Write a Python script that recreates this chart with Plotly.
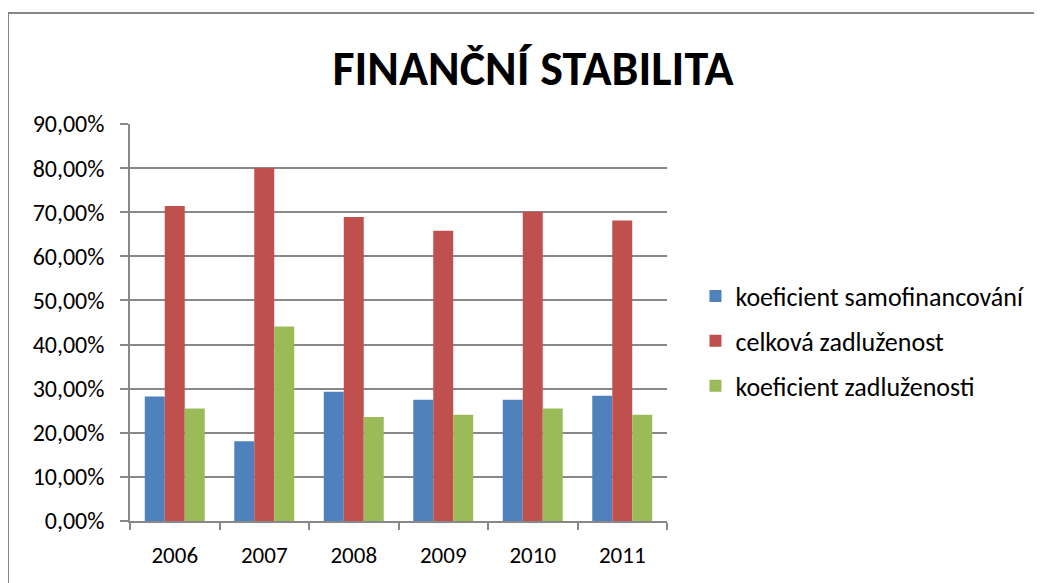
import plotly.graph_objects as go

years = ['2006', '2007', '2008', '2009', '2010', '2011']
samofinancovani = [0.282, 0.181, 0.293, 0.275, 0.275, 0.284]
celkova_zadluzenost = [0.714, 0.800, 0.689, 0.658, 0.701, 0.681]
koef_zadluzenosti = [0.255, 0.441, 0.236, 0.241, 0.255, 0.241]

series = [
    ('koeficient samofinancování', samofinancovani, '#4F81BD'),
    ('celková zadluženost', celkova_zadluzenost, '#C0504D'),
    ('koeficient zadluženosti', koef_zadluzenosti, '#9BBB59'),
]

font_family = 'Carlito, Calibri, Lato, Open Sans, sans-serif'
grid = '#888888'

fig = go.Figure()
for i, (name, vals, col) in enumerate(series):
    fig.add_trace(go.Bar(x=years, y=vals, name=name, marker_color=col,
                         marker_line_width=0, legendgroup=str(i)))

# page body has an 8px default margin, so the figure is sized 8px smaller
fig.update_layout(
    width=1034, height=575,
    margin=dict(l=122, r=375, t=116, b=62),
    paper_bgcolor='white', plot_bgcolor='white',
    font=dict(family=font_family, size=22, color='black'),
    separators=', ',
    barmode='group', bargap=0.33, bargroupgap=0,
    title=dict(text='<b>FINANČNÍ STABILITA</b>', x=525 / 1034, xref='container',
               xanchor='center', y=1 - 60 / 575, yref='container', yanchor='middle',
               font=dict(family=font_family, size=48, color='black')),
    legend=dict(x=1.053, xanchor='left', y=0.453, yanchor='middle',
                font=dict(size=26), tracegroupgap=8, itemwidth=30),
    showlegend=True,
)

fig.update_yaxes(range=[0, 0.9], dtick=0.1, tickformat='.2%',
                 tickfont=dict(size=24),
                 showgrid=True, gridcolor=grid, gridwidth=1.5,
                 showline=True, linecolor=grid, linewidth=1.5,
                 ticks='outside', ticklen=8, tickcolor=grid, tickwidth=1.5,
                 ticklabelstandoff=11, zeroline=False)
fig.update_xaxes(type='category', showline=True, linecolor=grid, linewidth=1.5,
                 ticks='outside', tickson='boundaries', ticklen=7, tickcolor=grid,
                 tickwidth=1.5, ticklabelstandoff=13, tickfont=dict(size=23))

# outer chart frame
fig.add_shape(type='rect', xref='paper', yref='paper',
              x0=-0.2272, x1=1.75, y0=-0.3, y1=1.2796,
              line=dict(color='#868686', width=2), layer='below')

fig.write_html("out.html")
